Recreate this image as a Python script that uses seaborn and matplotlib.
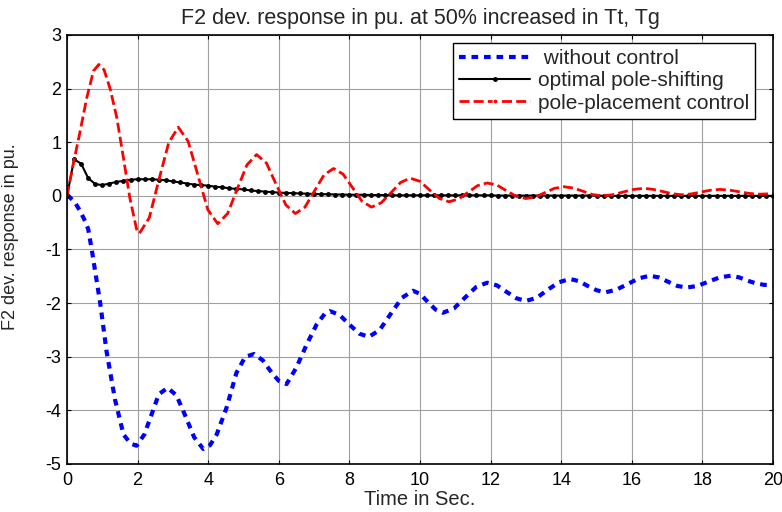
import numpy as np
import pandas as pd
import seaborn as sns
import matplotlib
matplotlib.use("Agg")
import matplotlib.pyplot as plt

# ---- data ----
# without control (blue dotted)
t_nocontrol = [0, 0.04, 0.23, 0.37, 0.51, 0.6, 0.7, 0.94, 1.12, 1.36, 1.6, 1.8, 1.97,
               2.19, 2.41, 2.6, 2.85, 3.1, 3.35, 3.6, 3.86, 4.05, 4.24, 4.52, 4.8, 5.05,
               5.3, 5.55, 5.8, 6.0, 6.22, 6.5, 6.79, 7.07, 7.3, 7.45, 7.72, 8.0, 8.28,
               8.55, 8.86, 9.17, 9.49, 9.8, 10.01, 10.22, 10.44, 10.65, 10.96, 11.27,
               11.59, 11.9, 12.18, 12.45, 12.73, 13.0, 13.31, 13.62, 13.94, 14.25, 14.5,
               14.75, 15.0, 15.25, 15.56, 15.87, 16.19, 16.5, 16.76, 17.02, 17.29, 17.55,
               17.86, 18.17, 18.49, 18.8, 19.04, 19.27, 19.51, 19.75, 20.0]
v_nocontrol = [0, 0, -0.13, -0.28, -0.47, -0.62, -1.0, -2.0, -2.9, -3.8, -4.45, -4.62, -4.66,
               -4.45, -4.05, -3.7, -3.58, -3.72, -4.1, -4.5, -4.72, -4.65, -4.45, -3.95, -3.3,
               -3.0, -2.95, -3.07, -3.3, -3.45, -3.51, -3.2, -2.77, -2.4, -2.2, -2.15, -2.22,
               -2.4, -2.57, -2.63, -2.5, -2.2, -1.9, -1.77, -1.83, -1.98, -2.12, -2.18, -2.1,
               -1.9, -1.7, -1.62, -1.67, -1.79, -1.91, -1.96, -1.9, -1.75, -1.61, -1.55, -1.59,
               -1.68, -1.76, -1.8, -1.75, -1.65, -1.54, -1.49, -1.52, -1.6, -1.68, -1.71,
               -1.68, -1.6, -1.52, -1.49, -1.52, -1.58, -1.63, -1.66, -1.67]

# optimal pole-shifting (black, one sample every 0.2 s)
t_optimal = np.arange(101) * 0.2
v_optimal = [0, 0.68, 0.6, 0.33, 0.22, 0.2, 0.23, 0.26, 0.28, 0.3,
             0.31, 0.31, 0.31, 0.3, 0.29, 0.27, 0.25, 0.23, 0.21, 0.2,
             0.19, 0.17, 0.16, 0.14, 0.13, 0.12, 0.1, 0.09, 0.08, 0.07,
             0.06, 0.055, 0.05, 0.045, 0.04, 0.035, 0.03, 0.03, 0.025, 0.025,
             0.02, 0.02, 0.02, 0.015, 0.015, 0.015, 0.01, 0.01, 0.01, 0.01,
             0.01, 0.01, 0.01, 0.01, 0.01, 0.01, 0.01, 0.01, 0.01, 0.01,
             0.01, 0.005, 0.005, 0.005, 0.005, 0.005, 0.005, 0.005, 0.005, 0.005,
             0.005, 0.005, 0.005, 0.005, 0.005, 0.005, 0, 0, 0, 0,
             0, 0, 0, 0, 0, 0, 0, 0, 0, 0,
             0, 0, 0, 0, 0, 0, 0, 0, 0, 0, 0]

# pole-placement control (red dashed)
t_placement = [0, 0.18, 0.37, 0.56, 0.75, 0.9, 1.05, 1.22, 1.41, 1.6, 1.78, 1.97, 2.05,
               2.33, 2.6, 2.88, 3.15, 3.43, 3.71, 3.99, 4.27, 4.55, 4.82, 5.1, 5.37,
               5.65, 5.92, 6.2, 6.47, 6.74, 7.01, 7.28, 7.55, 7.82, 8.09, 8.36, 8.63,
               8.9, 9.18, 9.45, 9.72, 10.0, 10.27, 10.55, 10.82, 11.09, 11.36, 11.63,
               11.9, 12.18, 12.45, 12.73, 13.0, 13.27, 13.54, 13.81, 14.08, 14.35, 14.62,
               14.88, 15.15, 15.45, 15.75, 16.05, 16.35, 16.61, 16.88, 17.14, 17.4, 17.68,
               17.95, 18.23, 18.5, 18.78, 19.05, 19.33, 19.6, 20.0]
v_placement = [0, 0.6, 1.2, 1.83, 2.33, 2.45, 2.35, 2.0, 1.46, 0.7, -0.04, -0.62, -0.7,
               -0.41, 0.29, 0.99, 1.28, 1.02, 0.38, -0.26, -0.52, -0.33, 0.125, 0.58, 0.77,
               0.61, 0.22, -0.17, -0.33, -0.21, 0.09, 0.39, 0.51, 0.405, 0.15, -0.105, -0.21,
               -0.13, 0.06, 0.25, 0.33, 0.27, 0.11, -0.05, -0.11, -0.06, 0.065, 0.19,
               0.24, 0.2, 0.095, -0.01, -0.05, -0.02, 0.06, 0.14, 0.17, 0.145, 0.085,
               0.025, 0.0, 0.02, 0.07, 0.12, 0.14, 0.12, 0.08, 0.04, 0.02, 0.035,
               0.07, 0.105, 0.12, 0.105, 0.075, 0.045, 0.03, 0.04]

x_ticks = list(range(0, 21, 2))
y_ticks = list(range(-5, 4))

sns.set_style("ticks")
plt.rcParams["font.family"] = ["Liberation Sans", "DejaVu Sans"]
plt.rcParams["axes.unicode_minus"] = False

fig = plt.figure(figsize=(7.82, 5.12), dpi=100)
ax = fig.add_axes([0.0857, 0.0938, 0.9028, 0.8379])

sns.lineplot(x=t_nocontrol, y=v_nocontrol, ax=ax, color="#0000ff", lw=3,
             linestyle=(0, (1.6, 1.4)), label=" without control")
sns.lineplot(x=t_optimal, y=v_optimal, ax=ax, color="black", lw=1.5,
             marker="o", markersize=3.5, markeredgewidth=0, label="optimal pole-shifting")
sns.lineplot(x=t_placement, y=v_placement, ax=ax, color="#ff0000", lw=2,
             linestyle=(0, (3.6, 1.5)), label="pole-placement control")

ax.set_xlim(0, 20)
ax.set_ylim(-5, 3)
ax.set_xticks(x_ticks)
ax.set_yticks(y_ticks)
ax.grid(True, color="#a0a0a0", lw=0.8)
ax.tick_params(direction="in", top=True, right=True, length=3, labelsize=13,
               colors="black")
ax.tick_params(axis="x", pad=6)
ax.tick_params(axis="y", pad=4)
for s in ax.spines.values():
    s.set_visible(True)
    s.set_color("black")
    s.set_linewidth(1.2)

ax.set_title("F2 dev. response in pu. at 50% increased in Tt, Tg", fontsize=15.5, pad=8)
ax.set_xlabel("Time in Sec.", fontsize=14.5, labelpad=0.5)
ax.set_ylabel("F2 dev. response in pu.", fontsize=13)
ax.yaxis.set_label_coords(-0.068, 0.529)

leg = ax.legend(loc="upper right", fontsize=15, frameon=True, fancybox=False,
                edgecolor="black", framealpha=1, handlelength=3.4, handletextpad=0.35,
                borderpad=0.3, labelspacing=0.15, borderaxespad=0,
                bbox_to_anchor=(0.9745, 0.981))
leg.get_frame().set_linewidth(1.0)
# red entry in the reference legend carries a dot marker
leg.legend_handles[2].set_marker("o")
leg.legend_handles[2].set_markersize(3.5)

fig.savefig("out.png", dpi=100)
